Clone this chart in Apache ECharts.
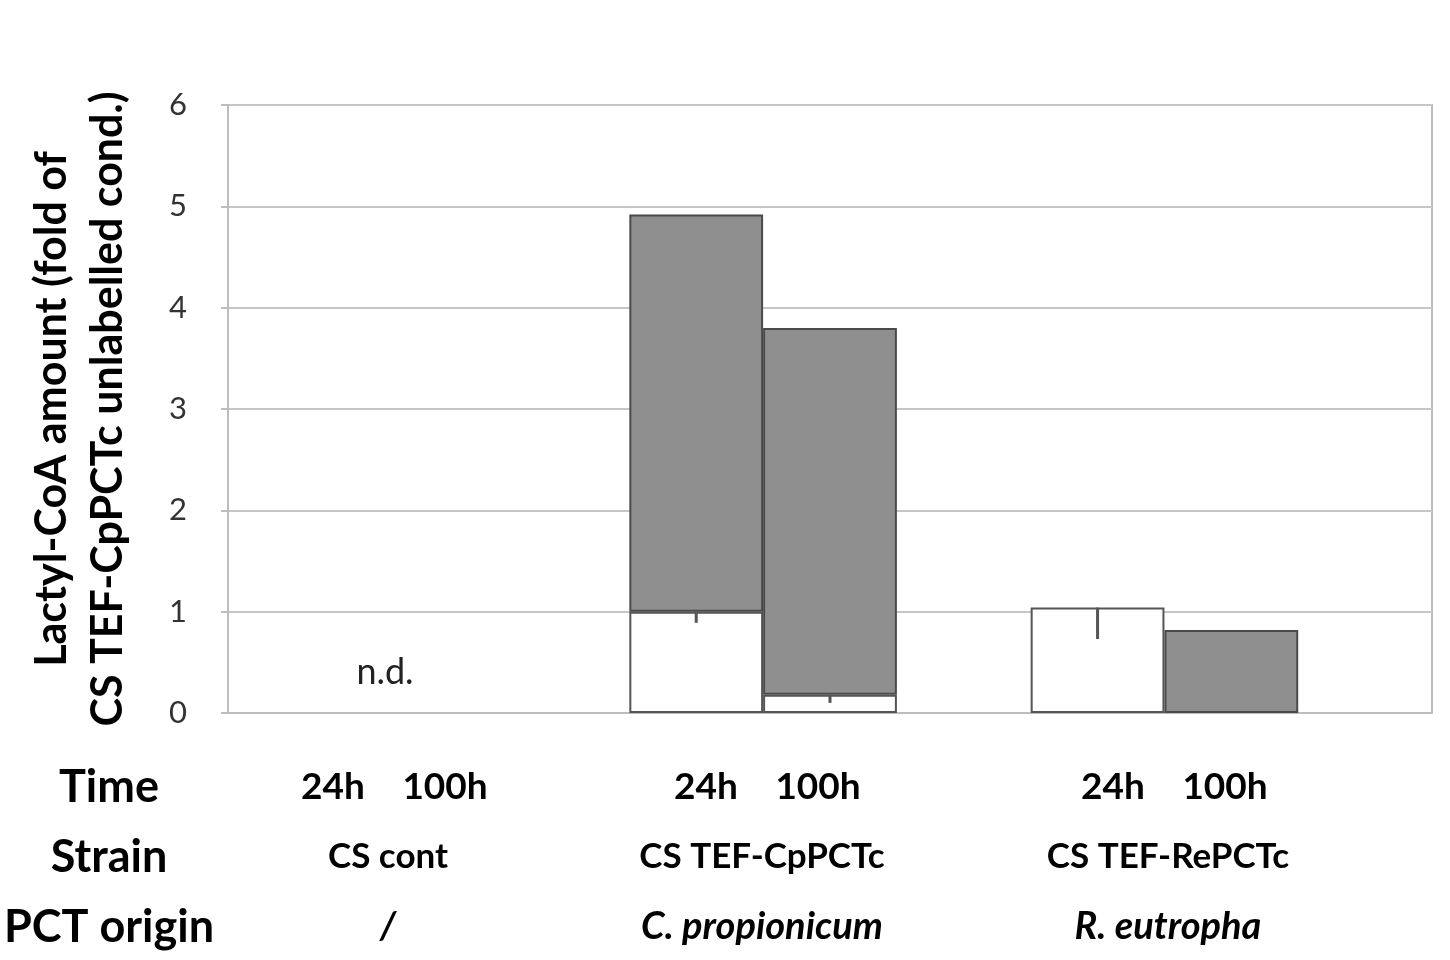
<!DOCTYPE html>
<html><head><meta charset="utf-8">
<script src="https://cdn.jsdelivr.net/npm/echarts@6/dist/echarts.min.js"></script>
<style>html,body{margin:0;padding:0;background:#fff}#c{width:1450px;height:960px}</style>
</head><body><div id="c"></div>
<script>
// ---- data ----
const categories = ['cont-24h','cont-100h','gap1','Cp-24h','Cp-100h','gap2','Re-24h','Re-100h','gap3'];
const unlabelled = ['-', '-', '-', 1.00, 0.18, '-', 1.04, '-', '-'];   // white part
const labelled   = ['-', '-', '-', 3.92, 3.62, '-', '-', 0.82, '-'];   // grey part (stacked)
const errMinus   = [null, null, null, 0.11, 0.08, null, 0.31, null, null]; // minus-only error bars on white part
const yTicks = [0,1,2,3,4,5,6];
const rowTitles = ['Time','Strain','PCT origin'];
const timeLabels = ['24h','100h','24h','100h','24h','100h'];
const strainLabels = ['CS cont','CS TEF-CpPCTc','CS TEF-RePCTc'];
const originLabels = ['/','C. propionicum','R. eutropha'];
const ndLabel = 'n.d.';
const yTitle = 'Lactyl-CoA amount (fold of\nCS TEF-CpPCTc unlabelled cond.)';

const FONT = 'Lato';
const errData = [];
errMinus.forEach((e,i)=>{ if(e!==null){ errData.push([i, unlabelled[i], e]); } });

const chart = echarts.init(document.getElementById('c'));

// layout positions for bottom text rows
const timeX = [333, 445, 706, 818, 1113, 1225];
const groupX = [388, 762, 1168];
const rowY = [787, 857, 927];

const graphics = [];
rowTitles.forEach((t,i)=>graphics.push({type:'text', x:109, y:rowY[i],
  style:{text:t, font:'bold 45px '+FONT, fill:'#000', textAlign:'center', textVerticalAlign:'middle'}}));
timeLabels.forEach((t,i)=>graphics.push({type:'text', x:timeX[i], y:rowY[0],
  style:{text:t, font:'bold 37px '+FONT, fill:'#000', textAlign:'center', textVerticalAlign:'middle'}}));
strainLabels.forEach((t,i)=>graphics.push({type:'text', x:groupX[i], y:rowY[1],
  style:{text:t, font:'bold 35px '+FONT, fill:'#000', textAlign:'center', textVerticalAlign:'middle'}}));
originLabels.forEach((t,i)=>graphics.push({type:'text', x:groupX[i], y:rowY[2],
  style:{text:t, font:'italic bold 38px '+FONT, fill:'#000', textAlign:'center', textVerticalAlign:'middle'}}));
graphics.push({type:'text', x:385, y:672, style:{text:ndLabel, font:'36px '+FONT, fill:'#222', textAlign:'center', textVerticalAlign:'middle'}});

chart.setOption({
  animation:false,
  grid:{left:228, right:18, top:105, bottom:247, show:true, borderColor:'#bdbdbd', borderWidth:2},
  xAxis:{type:'category', data:categories, axisLabel:{show:false}, axisTick:{show:false},
    axisLine:{lineStyle:{color:'#bdbdbd', width:2}}, splitLine:{show:false}},
  yAxis:{type:'value', min:0, max:6, interval:1,
    name:yTitle, nameLocation:'middle', nameRotate:90, nameGap:92,
    nameTextStyle:{fontFamily:FONT, fontSize:43, fontWeight:'bold', color:'#000', lineHeight:56},
    axisLine:{show:true, lineStyle:{color:'#bdbdbd', width:2}},
    axisTick:{show:true, length:7, lineStyle:{color:'#bdbdbd', width:2}},
    axisLabel:{fontFamily:FONT, fontSize:31, color:'#333', margin:41,
      formatter:v=>yTicks.includes(v)?String(v):''},
    splitLine:{lineStyle:{color:'#c6c6c6', width:2}}},
  series:[
    {type:'bar', stack:'s', data:unlabelled, barWidth:'100%', barCategoryGap:'0%',
      itemStyle:{color:'#ffffff', borderColor:'#555', borderWidth:2}, z:2},
    {type:'bar', stack:'s', data:labelled, barWidth:'100%',
      itemStyle:{color:'#8f8f8f', borderColor:'#4a4a4a', borderWidth:2}, z:2},
    {type:'custom', data:errData, z:5,
      renderItem:(params, api)=>{
        const i=api.value(0), top=api.value(1), e=api.value(2);
        const p1=api.coord([i, top]), p2=api.coord([i, top-e]);
        return {type:'line', shape:{x1:p1[0], y1:p1[1], x2:p2[0], y2:p2[1]},
          style:{stroke:'#555', lineWidth:3}};
      }}
  ],
  graphic:graphics
});
</script></body></html>
